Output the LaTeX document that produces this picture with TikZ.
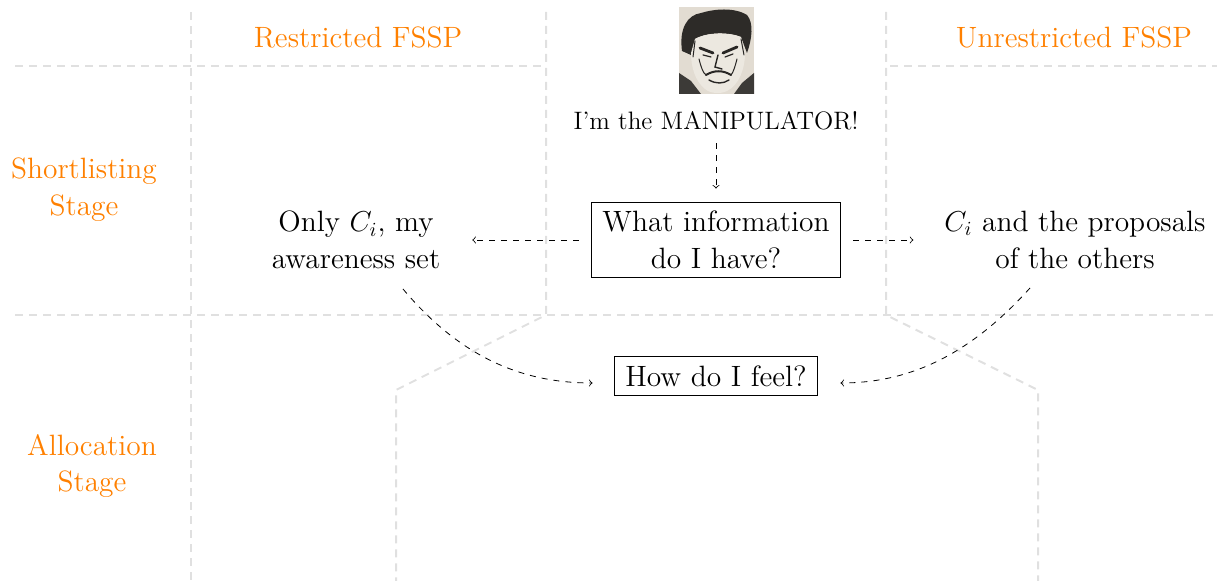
\documentclass[tikz,border=0pt]{standalone}
\definecolor{gridgray}{RGB}{224,224,224}
\definecolor{stageorange}{RGB}{255,128,0}
\definecolor{paper}{RGB}{226,220,210}
\definecolor{skintone}{RGB}{236,232,224}
\definecolor{hairdark}{RGB}{45,43,40}
\definecolor{shadow}{RGB}{60,58,55}
\definecolor{inkline}{RGB}{40,38,36}
\begin{document}
\begin{tikzpicture}[x=0.5pt,y=-0.5pt,
  bigfont/.style={font=\fontsize{14.7}{18.4}\selectfont},
  grid/.style={draw=gridgray,line width=1pt,dash pattern=on 4pt off 3pt},
  lab/.style={bigfont,text=stageorange,align=center},
  txt/.style={bigfont,align=center},
  box/.style={draw,bigfont,align=center,line width=0.5pt,inner xsep=5.6pt,inner ysep=4.5pt},
  conn/.style={draw,->,dashed,line width=0.4pt},
  ink/.style={draw=inkline,line cap=round}]
\useasboundingbox (0,0) rectangle (1217,581);

% background grid of stages and variants
\draw[grid] (191,12) -- (191,581);
\draw[grid] (546,12) -- (546,315) -- (396,390) -- (396,581);
\draw[grid] (886,12) -- (886,315) -- (1038,390) -- (1038,581);
\draw[grid] (15,66) -- (546,66);
\draw[grid] (890,66) -- (1217,66);
\draw[grid] (15,315) -- (1217,315);

% headers
\node[lab] (restr) at (358,37) {Restricted FSSP};
\node[lab] (unrestr) at (1074,37) {Unrestricted FSSP};
\node[lab] (short) at (84,190) {Shortlisting\\Stage};
\node[lab] (alloc) at (92,466) {Allocation\\Stage};

% portrait sketch
\begin{scope}[shift={(679,7)}]
  \fill[paper] (0,0) rectangle (75,87);
  \fill[hairdark] (3,44) .. controls (0,22) and (8,8) .. (22,6)
    .. controls (35,2) and (55,0) .. (68,8) .. controls (75,16) and (73,32) .. (68,46)
    -- (62,30) .. controls (50,25) and (28,25) .. (16,32) -- (12,48) -- cycle;
  \fill[skintone] (16,32) .. controls (28,25) and (50,25) .. (62,30) -- (66,46)
    .. controls (66,62) and (60,78) .. (48,84) .. controls (42,87) and (32,87) .. (26,82)
    .. controls (16,74) and (12,60) .. (12,46) -- cycle;
  \fill[shadow] (0,66) -- (12,74) -- (22,87) -- (0,87) -- cycle;
  \fill[shadow] (75,66) -- (63,76) -- (55,87) -- (75,87) -- cycle;
  \draw[ink,line width=1.4pt] (21,41) -- (34,46);
  \draw[ink,line width=1.4pt] (44,46) -- (58,40);
  \draw[ink,line width=0.6pt] (24,48) -- (32,50);
  \draw[ink,line width=0.6pt] (46,50) -- (54,47);
  \draw[ink,line width=0.7pt] (39,48) -- (36,60) -- (43,62);
  \draw[ink,line width=1pt] (27,68) .. controls (35,63) and (44,63) .. (52,68);
  \draw[ink,line width=0.7pt] (30,73) .. controls (37,77) and (44,77) .. (50,73);
  \draw[ink,line width=0.5pt] (20,52) .. controls (22,60) and (24,66) .. (27,68);
  \draw[ink,line width=0.5pt] (58,52) .. controls (56,60) and (54,66) .. (52,68);
  \draw[ink,line width=0.5pt] (16,34) -- (14,50);
  \draw[ink,line width=0.5pt] (62,32) -- (65,48);
\end{scope}

% question flow
\node[font=\fontsize{12.6}{15}\selectfont] (manip) at (716,121) {I'm the MANIPULATOR!};
\node[box] (info) at (716,240) {What information\\do I have?};
\node[txt] (only) at (356,240) {Only $C_i$, my\\awareness set};
\node[txt] (prop) at (1075,240) {$C_i$ and the proposals\\of the others};
\node[box] (feel) at (716,376) {How do I feel?};

\coordinate (ostart) at (403,289);
\coordinate (pstart) at (1030,288);

\draw[conn,shorten <=3pt,shorten >=6.5pt] (manip) -- (info);
\draw[conn,shorten <=6pt,shorten >=12.5pt] (info.west) -- (only.east);
\draw[conn,shorten <=6pt,shorten >=12pt] (info.east) -- (prop.west);
\draw[conn,shorten >=10.5pt] (ostart) to[out=-50,in=180] ([yshift=-3.5pt]feel.west);
\draw[conn,shorten >=11pt] (pstart) to[out=-132,in=0] ([yshift=-3.5pt]feel.east);
\end{tikzpicture}
\end{document}
